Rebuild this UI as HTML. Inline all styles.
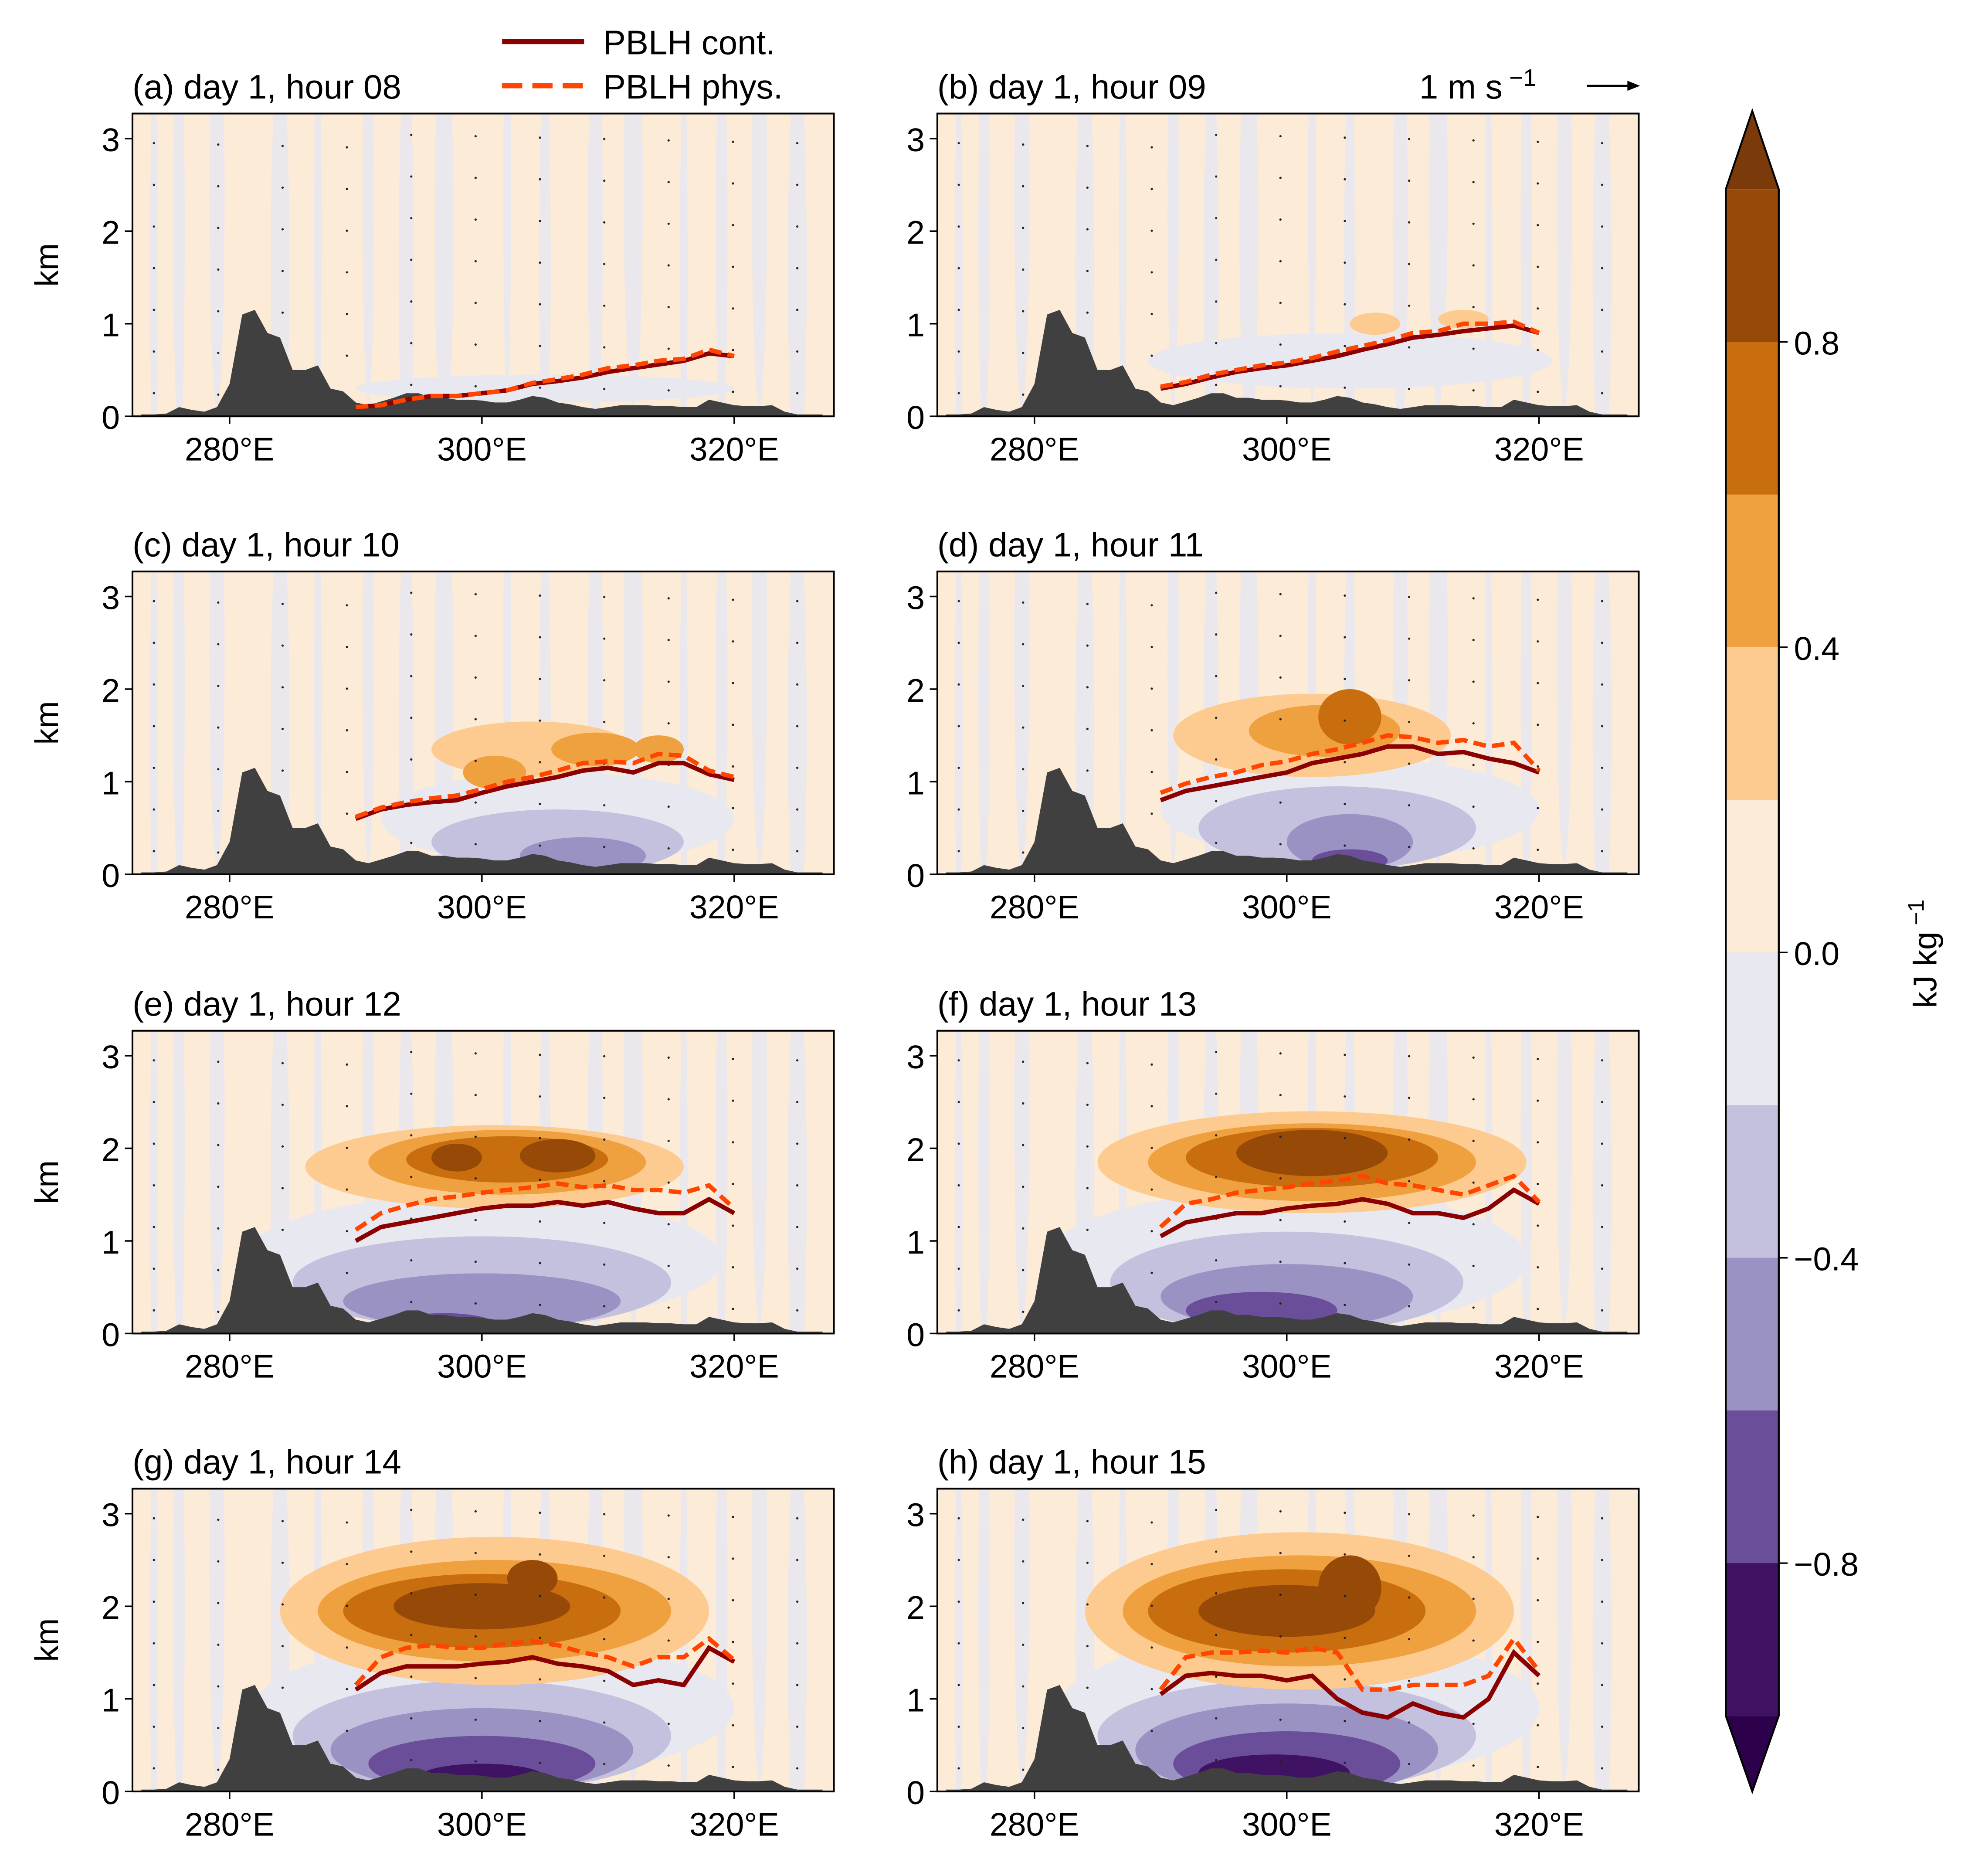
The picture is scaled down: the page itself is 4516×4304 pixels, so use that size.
<!DOCTYPE html>
<html><head><meta charset="utf-8"><style>
html,body{margin:0;padding:0;background:#fff}
svg{display:block}
text{font-family:"Liberation Sans",Arial,sans-serif;fill:#000}
</style></head><body>
<svg id="fig" xmlns="http://www.w3.org/2000/svg" width="4516" height="4304" viewBox="0 0 1560 1487" preserveAspectRatio="none"></svg>
<script>
// ---------- data ----------
const terrainLon = [273,274,275,276,277,278,279,280,281,282,283,284,285,286,287,288,289,290,291,292,293,294,295,296,297,298,299,300,301,302,303,304,305,306,307,308,309,310,311,312,313,314,315,316,317,318,319,320,321,322,323,324,325,326,327];
const terrainKm  = [0.02,0.02,0.03,0.1,0.07,0.05,0.1,0.35,1.1,1.15,0.9,0.85,0.5,0.5,0.55,0.3,0.27,0.15,0.12,0.16,0.2,0.25,0.25,0.2,0.2,0.18,0.18,0.17,0.15,0.15,0.18,0.22,0.2,0.15,0.13,0.1,0.08,0.1,0.12,0.12,0.12,0.11,0.11,0.1,0.1,0.18,0.15,0.12,0.11,0.11,0.12,0.05,0.02,0.02,0.02];
const pblhLon = [290,292,294,296,298,300,302,304,306,308,310,312,314,316,318,320];
const pblhCont = {
 a:[0.1,0.12,0.18,0.22,0.22,0.25,0.28,0.35,0.38,0.42,0.48,0.52,0.56,0.6,0.68,0.65],
 b:[0.3,0.35,0.42,0.48,0.52,0.55,0.6,0.65,0.72,0.78,0.85,0.88,0.92,0.95,0.98,0.9],
 c:[0.6,0.7,0.75,0.78,0.8,0.88,0.95,1.0,1.05,1.12,1.15,1.1,1.2,1.2,1.08,1.02],
 d:[0.8,0.9,0.95,1.0,1.05,1.1,1.2,1.25,1.3,1.38,1.38,1.3,1.32,1.25,1.2,1.1],
 e:[1.0,1.15,1.2,1.25,1.3,1.35,1.38,1.38,1.42,1.38,1.42,1.35,1.3,1.3,1.45,1.3],
 f:[1.05,1.2,1.25,1.3,1.3,1.35,1.38,1.4,1.45,1.4,1.3,1.3,1.25,1.35,1.55,1.4],
 g:[1.1,1.28,1.35,1.35,1.35,1.38,1.4,1.45,1.38,1.35,1.3,1.15,1.2,1.15,1.55,1.4],
 h:[1.05,1.25,1.28,1.25,1.25,1.2,1.25,1.0,0.85,0.8,0.95,0.85,0.8,1.0,1.5,1.25]
};
const pblhPhys = {
 a:[0.1,0.12,0.18,0.22,0.22,0.25,0.28,0.36,0.4,0.45,0.52,0.55,0.6,0.62,0.72,0.65],
 b:[0.32,0.37,0.45,0.5,0.55,0.58,0.63,0.7,0.76,0.82,0.9,0.92,1.0,1.0,1.02,0.9],
 c:[0.62,0.72,0.78,0.82,0.85,0.92,1.0,1.05,1.12,1.2,1.22,1.2,1.3,1.28,1.12,1.05],
 d:[0.88,0.98,1.05,1.1,1.18,1.22,1.3,1.35,1.42,1.5,1.48,1.42,1.45,1.38,1.42,1.12],
 e:[1.12,1.3,1.38,1.45,1.48,1.52,1.55,1.58,1.62,1.58,1.6,1.55,1.55,1.52,1.6,1.35],
 f:[1.15,1.4,1.45,1.52,1.55,1.58,1.62,1.65,1.7,1.62,1.6,1.55,1.5,1.6,1.7,1.42],
 g:[1.15,1.45,1.55,1.58,1.55,1.55,1.6,1.62,1.58,1.5,1.45,1.35,1.45,1.45,1.65,1.42],
 h:[1.1,1.45,1.5,1.5,1.52,1.5,1.55,1.5,1.1,1.1,1.15,1.15,1.15,1.25,1.65,1.3]
};
// blobs: [lon, km, half-width deg, half-height km, level]
const blobs = {
 a:[[305,0.3,15,0.15,-1]],
 b:[[305,0.6,16,0.3,-1],[307,1.0,2,0.12,1],[314,1.05,2,0.1,1]],
 c:[[306,0.6,14,0.5,-1],[306,0.35,10,0.35,-2],[308,0.2,5,0.2,-3],[304,1.35,8,0.3,1],[301,1.1,2.5,0.18,2],[309,1.35,3.5,0.18,2],[314,1.35,2,0.15,2]],
 d:[[305,0.7,15,0.55,-1],[304,0.5,11,0.45,-2],[305,0.35,5,0.3,-3],[305,0.15,3,0.12,-4],[302,1.5,11,0.45,1],[303,1.55,6,0.28,2],[305,1.7,2.5,0.3,3]],
 e:[[300,0.8,19,0.7,-1],[300,0.55,15,0.5,-2],[300,0.35,11,0.3,-3],[297,0.1,4,0.12,-4],[301,1.8,15,0.45,1],[302,1.85,11,0.35,2],[302,1.88,8,0.25,3],[306,1.92,3,0.18,4],[298,1.9,2,0.15,4]],
 f:[[300,0.8,19,0.75,-1],[300,0.55,14,0.55,-2],[300,0.4,10,0.35,-3],[298,0.25,6,0.2,-4],[302,1.85,17,0.55,1],[302,1.85,13,0.42,2],[302,1.9,10,0.32,3],[302,1.95,6,0.25,4]],
 g:[[301,0.9,19,0.75,-1],[300,0.6,15,0.6,-2],[300,0.45,12,0.45,-3],[300,0.3,9,0.3,-4],[300,0.15,5,0.15,-5],[301,1.95,17,0.8,1],[301,1.95,14,0.55,2],[300,1.95,11,0.4,3],[300,2.0,7,0.25,4],[304,2.3,2,0.2,4]],
 h:[[301,0.9,19,0.8,-1],[300,0.6,15,0.6,-2],[300,0.45,12,0.5,-3],[300,0.3,9,0.35,-4],[299,0.2,6,0.2,-5],[301,1.95,17,0.85,1],[301,1.95,14,0.6,2],[300,1.95,11,0.45,3],[300,1.95,7,0.28,4],[305,2.2,2.5,0.35,4]]
};
const streakLon = [274,276,279,284,287,291,294,297,302,305,309,312,316,319,322,325];
const colorbarTicks = [0.8,0.4,0.0,-0.4,-0.8];
const colorbarTickLabels = ["0.8","0.4","0.0","\u22120.4","\u22120.8"];
const levelColors = {"5":"#7a3a0a","4":"#974a07","3":"#c96e0f","2":"#eea13e","1":"#fdcb8f","0":"#fbebd7","-1":"#e8e8f1","-2":"#c4c1de","-3":"#9a92c2","-4":"#6a4e99","-5":"#3f1263"};
const cbColors = ["#974a07","#c96e0f","#eea13e","#fdcb8f","#fbebd7","#e8e8f1","#c4c1de","#9a92c2","#6a4e99","#3f1263"];
const panelKeys = ["a","b","c","d","e","f","g","h"];
const panelTitles = ["(a) day 1, hour 08","(b) day 1, hour 09","(c) day 1, hour 10","(d) day 1, hour 11","(e) day 1, hour 12","(f) day 1, hour 13","(g) day 1, hour 14","(h) day 1, hour 15"];
const xTicks = [280,300,320];
const yTicks = [0,1,2,3];

// ---------- drawing ----------
const NS="http://www.w3.org/2000/svg";
const svg=document.getElementById('fig');
function mk(tag,attrs,parent){const e=document.createElementNS(NS,tag);for(const k in attrs)e.setAttribute(k,attrs[k]);(parent||svg).appendChild(e);return e;}
const colX=[105,743], rowY=[90,453,817,1180], PW=556, PH=240;
const lonMin=272.3, lonMax=327.9, zMax=3.27;

panelKeys.forEach((k,i)=>{
  const x0=colX[i%2], y0=rowY[Math.floor(i/2)];
  const sx=l=>x0+(l-lonMin)/(lonMax-lonMin)*PW;
  const sy=z=>y0+PH-z/zMax*PH;
  const g=mk('g',{});
  
  
  const cid='clip'+k;
  const cp=mk('clipPath',{id:cid},g); mk('rect',{x:x0,y:y0,width:PW,height:PH},cp);
  const inner=mk('g',{'clip-path':'url(#'+cid+')'},g);
  mk('rect',{x:x0,y:y0,width:PW,height:PH,fill:levelColors["0"]},inner);
  streakLon.forEach((l,j)=>{
    const e=mk('ellipse',{cx:sx(l),cy:sy(1.6+(j%3)*0.4),rx:3+(j%4)*1.5,ry:PH*0.7,fill:levelColors["-1"],opacity:0.85},inner);
    
  });
  blobs[k].forEach(b=>{
    const e=mk('ellipse',{cx:sx(b[0]),cy:sy(b[1]),rx:b[2]*PW/(lonMax-lonMin),ry:b[3]*PH/zMax,fill:levelColors[String(b[4])]},inner);
    
  });
  for(let l=274;l<327;l+=5.1){for(let z=0.2;z<3.2;z+=0.45){
    mk('circle',{cx:sx(l),cy:sy(z+((l*7)%3)*0.05),r:0.9,fill:'#222'},inner);
  }}
  let d='M'+sx(terrainLon[0])+','+sy(0);
  terrainLon.forEach((l,j)=>{d+=' L'+sx(l).toFixed(1)+','+sy(terrainKm[j]).toFixed(1);});
  d+=' L'+sx(terrainLon[terrainLon.length-1])+','+sy(0)+'Z';
  const t=mk('path',{d:d,fill:'#404040'},inner);
  
  
  const line=(arr)=>pblhLon.map((l,j)=>(j?'L':'M')+sx(l).toFixed(1)+','+sy(arr[j]).toFixed(1)).join(' ');
  const lc=mk('path',{d:line(pblhCont[k]),fill:'none',stroke:'#8b0000','stroke-width':3.5},inner);
  
  
  const lp=mk('path',{d:line(pblhPhys[k]),fill:'none',stroke:'#ff4500','stroke-width':3.5,'stroke-dasharray':'10,5'},inner);
  
  
  mk('rect',{x:x0,y:y0,width:PW,height:PH,fill:'none',stroke:'#000','stroke-width':1.4},g);
  xTicks.forEach(v=>{
    mk('line',{x1:sx(v),x2:sx(v),y1:y0+PH,y2:y0+PH+6,stroke:'#000','stroke-width':1.2},g);
    const tx=mk('text',{x:sx(v),y:y0+PH+35,'font-size':26,'text-anchor':'middle'},g);
    tx.textContent=v+'°E';
    
    
  });
  yTicks.forEach(v=>{
    mk('line',{x1:x0-6,x2:x0,y1:sy(v),y2:sy(v),stroke:'#000','stroke-width':1.2},g);
    const tx=mk('text',{x:x0-10,y:sy(v)+10,'font-size':26,'text-anchor':'end'},g);
    tx.textContent=v;
    
    
  });
  if(i%2===0){
    const yl=mk('text',{x:0,y:0,'font-size':26,'text-anchor':'middle',transform:'translate(46,'+(y0+PH/2)+') rotate(-90)'},g);
    yl.textContent='km';
    
    
  }
  const ti=mk('text',{x:x0,y:y0-12,'font-size':27},g);
  ti.textContent=panelTitles[i];
  
  
});

// legend
const lg=mk('g',{});


mk('line',{x1:398,x2:463,y1:33,y2:33,stroke:'#8b0000','stroke-width':4},lg);
mk('line',{x1:398,x2:463,y1:68,y2:68,stroke:'#ff4500','stroke-width':4,'stroke-dasharray':'16,8'},lg);
let lt=mk('text',{x:478,y:43,'font-size':27},lg); lt.textContent='PBLH cont.';
lt=mk('text',{x:478,y:78,'font-size':27},lg); lt.textContent='PBLH phys.';
// quiver key
const qk=mk('g',{});


let qt=mk('text',{x:1125,y:78,'font-size':27},qk); qt.innerHTML='1 m s<tspan dy="-10" font-size="19"> \u22121</tspan>';
mk('line',{x1:1258,x2:1294,y1:68,y2:68,stroke:'#000','stroke-width':1.5},qk);
mk('path',{d:'M1300,68 L1290,64 L1290,72 Z',fill:'#000'},qk);

// colorbar
const cb=mk('g',{});


const cbx=1368,cbw=42,cbTop=150,cbBot=1360,bh=(cbBot-cbTop)/cbColors.length;
mk('path',{d:`M${cbx},${cbTop} L${cbx+cbw/2},88 L${cbx+cbw},${cbTop} Z`,fill:'#7a3a0a'},cb);
mk('path',{d:`M${cbx},${cbBot} L${cbx+cbw/2},1420 L${cbx+cbw},${cbBot} Z`,fill:'#2d004b'},cb);
cbColors.forEach((c,j)=>{mk('rect',{x:cbx,y:cbTop+j*bh,width:cbw,height:bh+0.5,fill:c},cb);});
mk('path',{d:`M${cbx},${cbTop} L${cbx+cbw/2},88 L${cbx+cbw},${cbTop} L${cbx+cbw},${cbBot} L${cbx+cbw/2},1420 L${cbx},${cbBot} Z`,fill:'none',stroke:'#000','stroke-width':1.5},cb);
const vy=v=>cbTop+(1.0-v)/2.0*(cbBot-cbTop);
colorbarTicks.forEach((v,j)=>{
  mk('line',{x1:cbx+cbw,x2:cbx+cbw+7,y1:vy(v),y2:vy(v),stroke:'#000','stroke-width':1.2},cb);
  const t=mk('text',{x:cbx+cbw+12,y:vy(v)+10,'font-size':26},cb);
  t.textContent=colorbarTickLabels[j];
  
  
});
const cl=mk('text',{x:0,y:0,'font-size':26,'text-anchor':'middle',transform:'translate(1535,756) rotate(-90)'},cb);
cl.innerHTML='kJ kg<tspan dy="-10" font-size="18"> \u22121</tspan>';


</script>
</body></html>
